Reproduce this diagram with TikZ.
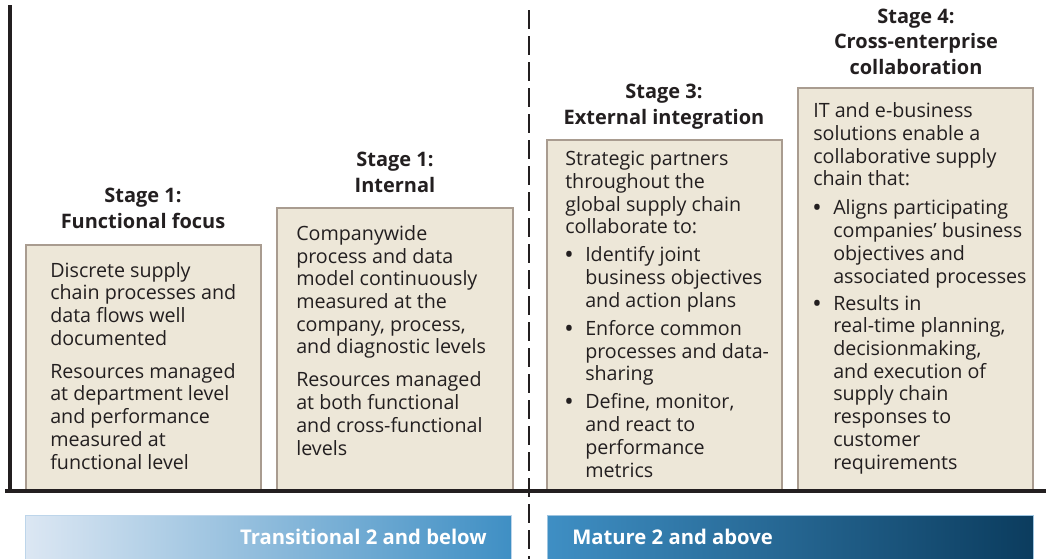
\documentclass[tikz,border=0pt]{standalone}
\usepackage{fontspec}
\setmainfont{Open Sans}
\definecolor{boxfill}{HTML}{EDE7D8}
\definecolor{boxline}{HTML}{A99C90}
\definecolor{ink}{HTML}{231F20}
\definecolor{lightband}{HTML}{DCE7F3}
\definecolor{midband}{HTML}{3F8FC4}
\definecolor{darkband}{HTML}{0B3C5E}
\newcommand{\bul}{\makebox[14.2pt][l]{\textbf{\textbullet}}}
\newcommand{\bcont}{\hspace*{14.2pt}}

\begin{document}
\begin{tikzpicture}[x=0.025cm, y=-0.025cm,
  stagebox/.style={fill=boxfill, draw=boxline, line width=0.9pt},
  body/.style={anchor=base west, align=left, inner sep=0pt, text=ink,
    font=\fontsize{14}{16.15}\selectfont},
  title/.style={anchor=base, align=center, inner sep=0pt, text=ink,
    font=\bfseries\fontsize{14.2}{17.8}\selectfont},
  band/.style={inner sep=0pt, text=white, font=\bfseries\fontsize{14.4}{18}\selectfont}]
  \useasboundingbox (0,0) rectangle (1046,559);

  \filldraw[stagebox] (26,245) rectangle (261,490);
  \filldraw[stagebox] (277,208) rectangle (513,490);
  \filldraw[stagebox] (547,140) rectangle (782,490);
  \filldraw[stagebox] (798,88) rectangle (1033,490);

  % titles sit on the baseline of their last line
  \node[title] (t1) at (143,228) {Stage 1:\\Functional focus};
  \node[title] (t2) at (395,192) {Stage 1:\\Internal};
  \node[title] (t3) at (664,124) {Stage 3:\\External integration};
  \node[title] (t4) at (916,74) {Stage 4:\\Cross-enterprise\\collaboration};

  \node[body] (b1) at (50,469) {Discrete supply\\chain processes and\\data flows well\\documented\\[7.3pt]
    Resources managed\\at department level\\and performance\\measured at\\functional level};
  \node[body] (b2) at (296,455) {Companywide\\process and data\\model continuously\\measured at the\\company, process,\\and diagnostic levels\\[7.3pt]
    Resources managed\\at both functional\\and cross-functional\\levels};
  \node[body] (b3) at (565,477) {Strategic partners\\throughout the\\global supply chain\\collaborate to:\\[3.8pt]
    \bul Identify joint\\\bcont business objectives\\\bcont and action plans\\[3.8pt]
    \bul Enforce common\\\bcont processes and data-\\\bcont sharing\\[3.8pt]
    \bul Define, monitor,\\\bcont and react to\\\bcont performance\\\bcont metrics};
  \node[body] (b4) at (813,469) {IT and e-business\\solutions enable a\\collaborative supply\\chain that:\\[4.5pt]
    \bul Aligns participating\\\bcont companies’ business\\\bcont objectives and\\\bcont associated processes\\[3pt]
    \bul Results in\\\bcont real-time planning,\\\bcont decisionmaking,\\\bcont and execution of\\\bcont supply chain\\\bcont responses to\\\bcont customer\\\bcont requirements};

  \draw[ink, line width=2.2pt] (10,5) -- (10,492);
  \draw[ink, line width=2.2pt] (5,491) -- (1046,491);
  \draw[ink, line width=1.6pt, dash pattern=on 13.5pt off 5pt] (529,10) -- (529,559);

  \shadedraw[left color=lightband, right color=midband, draw=lightband!80!midband, line width=0.6pt] (25,515) rectangle (511,562);
  \shadedraw[left color=midband, right color=darkband, draw=lightband!60!midband, line width=0.6pt] (547,515) rectangle (1033,562);
  \node[band, anchor=base east] (lo) at (487,544) {Transitional 2 and below};
  \node[band, anchor=base west] (hi) at (572,544) {Mature 2 and above};
\end{tikzpicture}
\end{document}
